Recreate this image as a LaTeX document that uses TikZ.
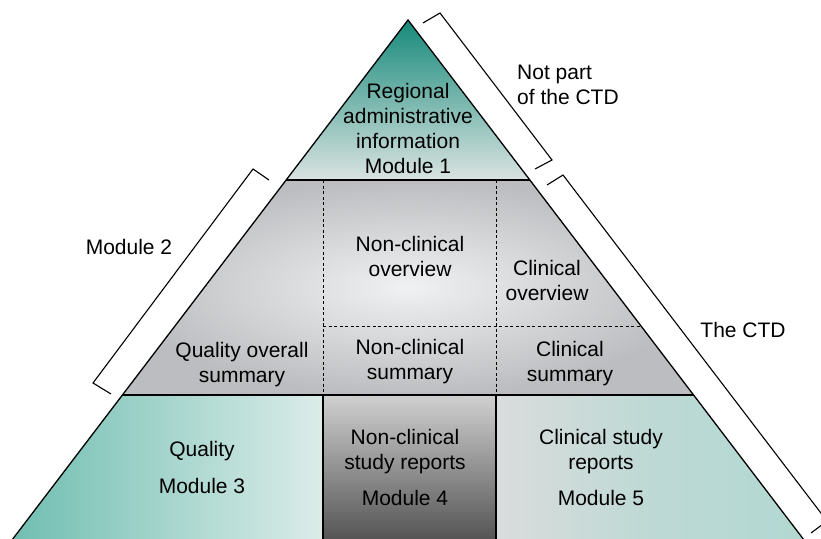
\documentclass[tikz,border=0pt]{standalone}
\usepackage{fontspec}
\setmainfont{Liberation Sans}
\definecolor{tealdark}{RGB}{22,138,122}
\definecolor{tealmid}{RGB}{72,160,147}
\definecolor{teallight}{RGB}{218,227,225}
\definecolor{greylight}{RGB}{240,241,242}
\definecolor{greydark}{RGB}{188,189,192}
\definecolor{qleft}{RGB}{112,190,177}
\definecolor{qright}{RGB}{220,236,233}
\definecolor{mfourtop}{RGB}{208,208,208}
\definecolor{mfourbot}{RGB}{84,84,84}
\definecolor{mfiveleft}{RGB}{218,220,220}
\definecolor{mfiveright}{RGB}{178,216,210}
\begin{document}
\begin{tikzpicture}[x=1pt,y=-1pt,
  every node/.style={font=\fontsize{21}{25}\selectfont, align=center, inner sep=0pt},
  outline/.style={line width=1.3pt, line join=miter},
  divider/.style={line width=0.9pt, dash pattern=on 3pt off 2.5pt},
  bracket/.style={line width=1.1pt, line join=miter}]
\useasboundingbox (0,0) rectangle (821,538);
% key points
\coordinate (apex) at (408,20);
\coordinate (tl) at (286,180);
\coordinate (tr) at (530,180);
\coordinate (ml) at (122,395);
\coordinate (mr) at (694,395);
\coordinate (bl) at (12,540);
\coordinate (br) at (804,540);
\coordinate (c1t) at (323,180);
\coordinate (c1m) at (323,395);
\coordinate (c1b) at (323,540);
\coordinate (c2t) at (496,180);
\coordinate (c2m) at (496,395);
\coordinate (c2b) at (496,540);
\coordinate (dl) at (323,326);
\coordinate (dr) at (641,326);
% fills
\shade[top color=tealdark, middle color=tealmid, bottom color=teallight] (apex) -- (tr) -- (tl) -- cycle;
\shade[inner color=greylight, outer color=greydark] (tl) -- (tr) -- (mr) -- (ml) -- cycle;
\shade[left color=qleft, right color=qright] (ml) -- (c1m) -- (c1b) -- (bl) -- cycle;
\shade[top color=mfourtop, bottom color=mfourbot] (c1m) -- (c2m) -- (c2b) -- (c1b) -- cycle;
\shade[left color=mfiveleft, right color=mfiveright, middle color=mfiveright!70!mfiveleft] (c2m) -- (mr) -- (br) -- (c2b) -- cycle;
% dividers
\draw[divider] (c1t) -- (c1m);
\draw[divider] (c2t) -- (c2m);
\draw[divider] (dl) -- (dr);
\draw[outline] (tl) -- (tr);
\draw[outline] (ml) -- (mr);
\draw[outline] (c1m) -- (c1b);
\draw[outline] (c2m) -- (c2b);
\draw[outline] (bl) -- (apex) -- (br);
% brackets
\coordinate (na) at (423,23);
\coordinate (nb) at (440,13);
\coordinate (nc) at (552,160);
\coordinate (nd) at (535,169);
\draw[bracket] (na) -- (nb) -- (nc) -- (nd);
\coordinate (ta) at (547,185);
\coordinate (tb) at (563,175);
\coordinate (tc) at (827,521);
\coordinate (td) at (811,533);
\draw[bracket] (ta) -- (tb) -- (tc) -- (td);
\coordinate (ma) at (269,180);
\coordinate (mb) at (253,169);
\coordinate (mc) at (93,383);
\coordinate (md) at (111,394);
\draw[bracket] (ma) -- (mb) -- (mc) -- (md);
% texts
\node (m1) at (408,128.5) {Regional\\administrative\\information\\Module 1};
\node (nco) at (410,256) {Non-clinical\\overview};
\node (co) at (547,280) {Clinical\\overview};
\node (qos) at (242,364.5) {Quality overall\\summary};
\node (ncs) at (410,362) {Non-clinical\\summary};
\node (cs) at (570,364) {Clinical\\summary};
\node (m3) at (202,467.5) {Quality\\[12pt]Module 3};
\node (m4) at (405,467.5) {Non-clinical\\study reports\\[11pt]Module 4};
\node (m5) at (601,467.5) {Clinical study\\reports\\[11pt]Module 5};
\node[anchor=west, align=left] (np) at (517,84.5) {Not part\\of the CTD};
\node (ctd) at (743,330) {The CTD};
\node (mod2) at (129,247) {Module 2};
\end{tikzpicture}
\end{document}
